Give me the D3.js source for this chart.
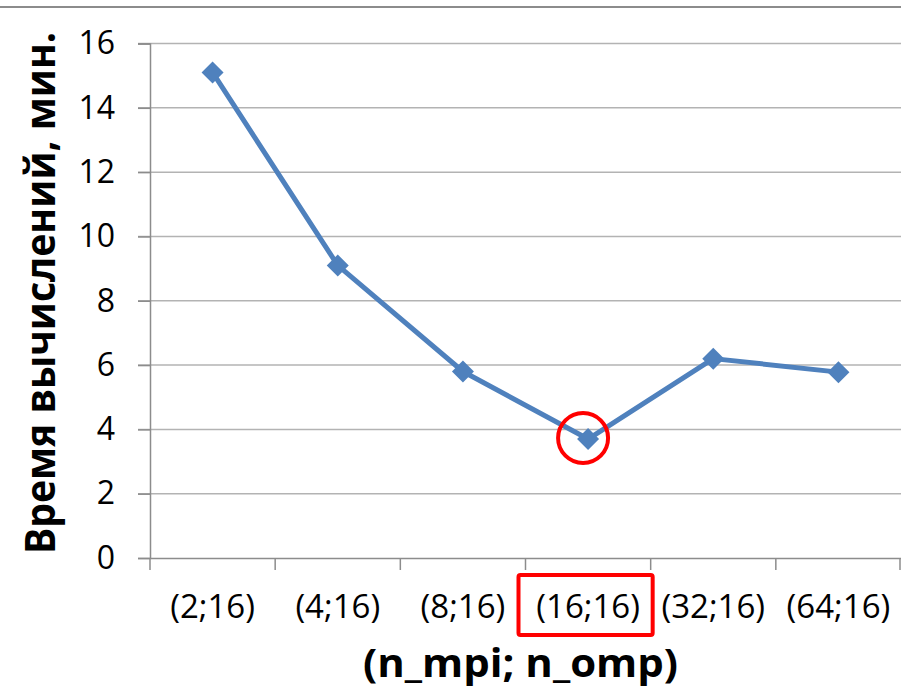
<!DOCTYPE html>
<html><head><meta charset="utf-8">
<script src="https://cdn.jsdelivr.net/npm/d3@7"></script>
<style>body{margin:0;background:#fff;} svg{display:block;}</style>
</head><body>
<script>
const categories = ["(2;16)","(4;16)","(8;16)","(16;16)","(32;16)","(64;16)"];
const values = [15.1, 9.1, 5.8, 3.7, 6.2, 5.78];
const yTicks = [0,2,4,6,8,10,12,14,16];
const yTitle = "Время вычислений, мин.";
const xTitle = "(n_mpi; n_omp)";
const highlight = "(16;16)";

const W = 901, H = 690;
const svg = d3.select("body").append("svg").attr("width", W).attr("height", H);
const font = "'Open Sans', sans-serif";
const mLeft = 150, mRight = 901, mTop = 43.5, mBottom = 558;

const x = d3.scaleBand().domain(categories).range([mLeft, mRight]).padding(0);
const y = d3.scaleLinear().domain([0,16]).range([mBottom, mTop]);

// top border
svg.append("line").attr("x1",0).attr("x2",W).attr("y1",7).attr("y2",7)
  .attr("stroke","#8c8c8c").attr("stroke-width",2);

// grid
svg.append("g").selectAll("line").data(yTicks.filter(d=>d>0)).join("line")
  .attr("x1",138).attr("x2",mRight).attr("y1",d=>y(d)).attr("y2",d=>y(d))
  .attr("stroke","#b3b3b3").attr("stroke-width",1.5);

// y axis
const ya = svg.append("g").attr("transform",`translate(${mLeft},0)`)
  .call(d3.axisLeft(y).tickValues(yTicks).tickSize(12).tickPadding(23).tickFormat(d3.format("d")));
ya.select(".domain").attr("stroke","#8c8c8c").attr("stroke-width",1.5);
ya.selectAll(".tick line").attr("stroke","#8c8c8c").attr("stroke-width",1.5);
ya.selectAll("text").attr("font-family",font).attr("font-size",32).attr("fill","#000");

// x axis
const xa = svg.append("g").attr("transform",`translate(0,${mBottom})`)
  .call(d3.axisBottom(x).tickSize(0).tickPadding(37));
xa.select(".domain").attr("stroke","#8c8c8c").attr("stroke-width",1.5);
xa.selectAll("text").attr("font-family",font).attr("font-size",33).attr("fill","#000");
// boundary ticks
const bounds = categories.map(c=>x(c)).concat([mRight-1]);
svg.append("g").selectAll("line").data(bounds).join("line")
  .attr("x1",d=>d).attr("x2",d=>d).attr("y1",mBottom).attr("y2",mBottom+12)
  .attr("stroke","#8c8c8c").attr("stroke-width",1.5);

// line
const cx = d => x(d) + x.bandwidth()/2;
const line = d3.line().x((d,i)=>cx(categories[i])).y(d=>y(d));
svg.append("path").datum(values).attr("d",line).attr("fill","none")
  .attr("stroke","#4F81BD").attr("stroke-width",5).attr("stroke-linejoin","round");
svg.append("g").selectAll("path").data(values).join("path")
  .attr("transform",(d,i)=>`translate(${cx(categories[i])},${y(d)})`)
  .attr("d","M0,-11L11,0L0,11L-11,0Z").attr("fill","#4F81BD");

// highlights
const hi = categories.indexOf(highlight);
svg.append("circle").attr("cx",cx(highlight)-5).attr("cy",y(values[hi])-1)
  .attr("r",25).attr("fill","none").attr("stroke","#ff0000").attr("stroke-width",4);
svg.append("rect").attr("x",x(highlight)-7).attr("y",575).attr("width",x.bandwidth()+9).attr("height",60)
  .attr("fill","none").attr("stroke","#ff0000").attr("stroke-width",4).attr("rx",2);

// titles
svg.append("text").attr("transform","translate(55,293) rotate(-90)").attr("text-anchor","middle")
  .attr("font-family",font).attr("font-weight","bold").attr("font-size",42)
  .attr("textLength",522).attr("lengthAdjust","spacingAndGlyphs").text(yTitle);
svg.append("text").attr("x",520.5).attr("y",677).attr("text-anchor","middle")
  .attr("font-family",font).attr("font-weight","bold").attr("font-size",40)
  .attr("textLength",315).attr("lengthAdjust","spacingAndGlyphs").text(xTitle);
</script>
</body></html>
